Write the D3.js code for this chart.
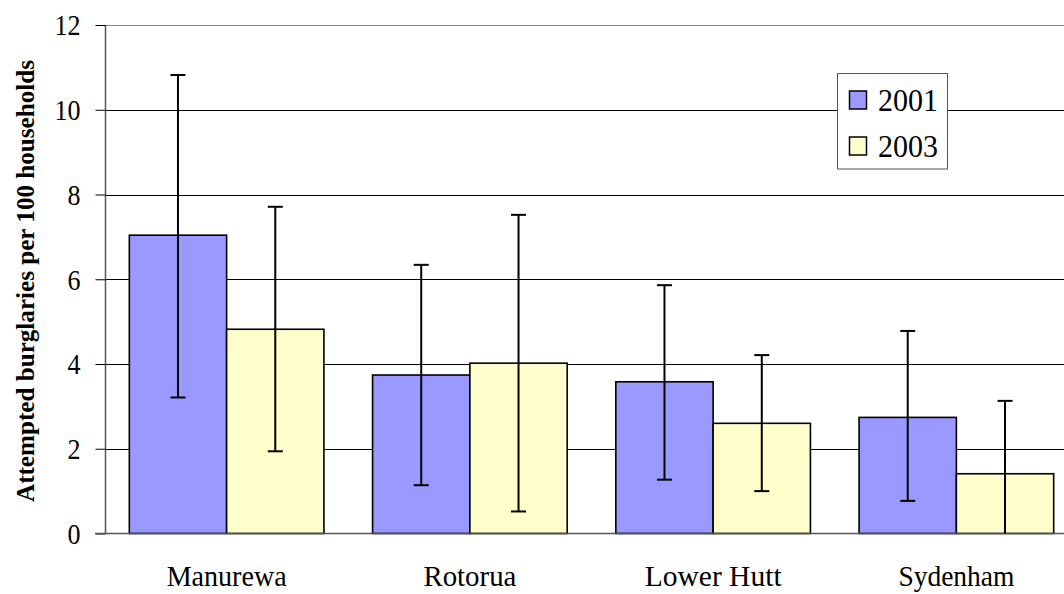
<!DOCTYPE html>
<html><head><meta charset="utf-8">
<script src="https://cdn.jsdelivr.net/npm/d3@7"></script>
<style>html,body{margin:0;padding:0;background:#fff;overflow:hidden}svg{display:block}</style>
</head><body>
<svg id="c" width="1064" height="594"></svg>
<script>
const categories = ["Manurewa", "Rotorua", "Lower Hutt", "Sydenham"];
const seriesNames = ["2001", "2003"];
const values2001 = [7.04, 3.74, 3.58, 2.74];
const values2003 = [4.82, 4.02, 2.60, 1.41];
const lower2001 = [3.21, 1.14, 1.27, 0.77];
const upper2001 = [10.82, 6.34, 5.86, 4.78];
const lower2003 = [1.94, 0.52, 1.00, 0.0];
const upper2003 = [7.71, 7.52, 4.21, 3.13];
const yTicks = [0, 2, 4, 6, 8, 10, 12];
const yTitle = "Attempted burglaries per 100 households";
const colors = ["#9999FF", "#FFFFCC"];

(function () {
const svg = d3.select("#c");
const pLeft = 105, pRight = 1078, pTop = 25, pBottom = 533.5;
const font = "'Liberation Serif','Times New Roman',serif";

const bandW = (pRight - pLeft) / categories.length;
const barW = bandW / 2.5;
const y = d3.scaleLinear().domain([0, 12]).range([pBottom, pTop]);
const x1 = d3.scaleBand().domain(seriesNames).range([0, 2 * barW]);
function groupStart(c) { return pLeft + categories.indexOf(c) * bandW + (bandW - 2 * barW) / 2; }

// gridlines
svg.append("g").selectAll("line").data(yTicks.filter(t => t > 0)).join("line")
  .attr("x1", pLeft).attr("x2", pRight)
  .attr("y1", d => Math.round(y(d)) + 0.5).attr("y2", d => Math.round(y(d)) + 0.5)
  .attr("stroke", d => d === 12 ? "#888" : "#000").attr("stroke-width", 1);

// y axis
const yAxis = d3.axisLeft(y).tickValues(yTicks).tickSize(10).tickPadding(15).tickFormat(d3.format("d"));
const ga = svg.append("g").attr("transform", `translate(${pLeft + 0.5},0)`).call(yAxis);
ga.select(".domain").attr("stroke", "#555").attr("stroke-width", 1.5).attr("d", `M0,${y(12)}V${pBottom}`);
ga.selectAll(".tick line").attr("stroke", "#000");
ga.selectAll(".tick text").attr("font-family", font).attr("font-size", 29).attr("fill", "#000")
  .attr("textLength", d => d >= 10 ? 26 : 13).attr("lengthAdjust", "spacingAndGlyphs").attr("dy", "0.34em");

// bars
const data = [];
categories.forEach((c, i) => {
  data.push({c, s: "2001", v: values2001[i], lo: lower2001[i], hi: upper2001[i]});
  data.push({c, s: "2003", v: values2003[i], lo: lower2003[i], hi: upper2003[i]});
});
svg.append("g").selectAll("rect").data(data).join("rect")
  .attr("x", d => groupStart(d.c) + x1(d.s))
  .attr("y", d => y(d.v))
  .attr("width", x1.bandwidth())
  .attr("height", d => y(0) - y(d.v))
  .attr("fill", d => colors[seriesNames.indexOf(d.s)])
  .attr("stroke", "#000").attr("stroke-width", 1.6);

// bottom axis line
svg.append("line").attr("x1", pLeft - 10).attr("x2", pRight).attr("y1", pBottom).attr("y2", pBottom)
  .attr("stroke", "#555").attr("stroke-width", 1.5);

// error bars
const eb = svg.append("g").attr("stroke", "#000").attr("stroke-width", 2);
data.forEach(d => {
  const cx = groupStart(d.c) + x1(d.s) + x1.bandwidth() / 2;
  eb.append("line").attr("x1", cx).attr("x2", cx).attr("y1", y(d.lo)).attr("y2", y(d.hi));
  eb.append("line").attr("x1", cx - 7.5).attr("x2", cx + 7.5).attr("y1", y(d.hi)).attr("y2", y(d.hi));
  if (d.lo > 0) eb.append("line").attr("x1", cx - 7.5).attr("x2", cx + 7.5).attr("y1", y(d.lo)).attr("y2", y(d.lo));
});

// category labels
svg.append("g").selectAll("text").data(categories).join("text")
  .attr("x", d => pLeft + categories.indexOf(d) * bandW + bandW / 2)
  .attr("y", 586).attr("text-anchor", "middle")
  .attr("font-family", font).attr("font-size", 30).attr("fill", "#000")
  .attr("textLength", d => ({"Manurewa":120,"Rotorua":93,"Lower Hutt":137,"Sydenham":116})[d])
  .attr("lengthAdjust", "spacingAndGlyphs")
  .text(d => d);

// y title
svg.append("text").attr("transform", "translate(34,281) rotate(-90)")
  .attr("text-anchor", "middle").attr("font-family", font).attr("font-weight", "bold")
  .attr("font-size", 26).attr("textLength", 442).attr("lengthAdjust", "spacingAndGlyphs")
  .attr("fill", "#000").text(yTitle);

// legend
const lg = svg.append("g");
lg.append("rect").attr("x", 837.5).attr("y", 73.5).attr("width", 110).attr("height", 95.5)
  .attr("fill", "#fff").attr("stroke", "#555").attr("stroke-width", 1);
seriesNames.forEach((s, i) => {
  const cy = 100 + i * 46;
  lg.append("rect").attr("x", 849.5).attr("y", cy - 9).attr("width", 17).attr("height", 18)
    .attr("fill", colors[i]).attr("stroke", "#000").attr("stroke-width", 1.5);
  lg.append("text").attr("x", 878).attr("y", cy + 11).attr("font-family", font).attr("font-size", 32)
    .attr("textLength", 60).attr("lengthAdjust", "spacingAndGlyphs").attr("fill", "#000").text(s);
});
})();
</script>
</body></html>
